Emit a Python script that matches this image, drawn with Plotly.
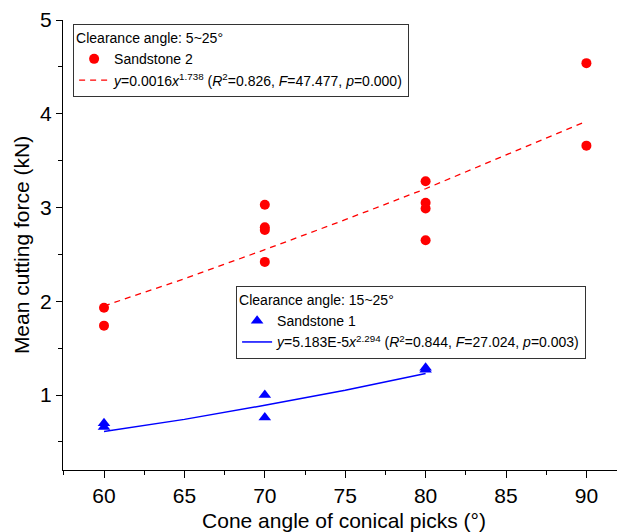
import plotly.graph_objects as go

# ---- data ----
s2_angle = [60, 60, 70, 70, 70, 70, 80, 80, 80, 80, 90, 90]
s2_force = [1.93, 1.74, 3.03, 2.79, 2.76, 2.42, 3.28, 3.05, 2.99, 2.65, 4.54, 3.66]
s1_angle = [60, 60, 70, 70, 80, 80]
s1_force = [0.70, 0.66, 1.00, 0.76, 1.29, 1.27]
fit2_angle = [60, 65, 70, 75, 80, 85, 90]
fit2_force = [1.95, 2.24, 2.55, 2.87, 3.20, 3.56, 3.92]
fit1_angle = [60, 65, 70, 75, 80]
fit1_force = [0.61, 0.74, 0.89, 1.05, 1.23]

s2_name = "Sandstone 2"
s1_name = "Sandstone 1"
fit2_name = "<i>y</i>=0.0016<i>x</i><sup>1.738</sup> (<i>R</i><sup>2</sup>=0.826, <i>F</i>=47.477, <i>p</i>=0.000)"
fit1_name = "<i>y</i>=5.183E-5<i>x</i><sup>2.294</sup> (<i>R</i><sup>2</sup>=0.844, <i>F</i>=27.024, <i>p</i>=0.003)"
legend2_title = "Clearance angle: 5~25°"
legend1_title = "Clearance angle: 15~25°"
x_title = "Cone angle of conical picks (°)"
y_title = "Mean cutting force (kN)"

RED = "#FF0000"
BLUE = "#0000FF"
FONT = "Liberation Sans"

fig = go.Figure()
fig.add_trace(go.Scatter(x=fit2_angle, y=fit2_force, mode="lines", name=fit2_name,
                         line=dict(color=RED, width=1.3, dash="6px,5px"),
                         legend="legend", legendrank=2))
fig.add_trace(go.Scatter(x=s2_angle, y=s2_force, mode="markers", name=s2_name,
                         marker=dict(symbol="circle", size=10, color=RED),
                         legend="legend", legendrank=1))
fig.add_trace(go.Scatter(x=fit1_angle, y=fit1_force, mode="lines", name=fit1_name,
                         line=dict(color=BLUE, width=1.5),
                         legend="legend2", legendrank=2))
fig.add_trace(go.Scatter(x=s1_angle, y=s1_force, mode="markers", name=s1_name,
                         marker=dict(symbol="triangle-up", size=11, color=BLUE),
                         legend="legend2", legendrank=1))

legend_common = dict(
    bgcolor="white", bordercolor="#333333", borderwidth=1,
    font=dict(family=FONT, size=14, color="black"),
    xanchor="left", yanchor="top", itemwidth=30, tracegroupgap=0,
)

# The page body has an 8px default margin, so the figure is 8px smaller
# and its margins are reduced by 8px to keep the plot area in place.
fig.update_layout(
    width=617, height=524,
    margin=dict(l=55, r=0, t=12, b=62),
    plot_bgcolor="white", paper_bgcolor="white",
    font=dict(family=FONT, color="black"),
    showlegend=True,
    legend=dict(title=dict(text=legend2_title, font=dict(family=FONT, size=14)),
                x=0.018, y=0.991, **legend_common),
    legend2=dict(title=dict(text=legend1_title, font=dict(family=FONT, size=14)),
                 x=0.308, y=0.409, **legend_common),
    xaxis=dict(
        range=[57.45, 92.4], tick0=60, dtick=5,
        showline=True, linecolor="black", linewidth=1, mirror=False,
        ticks="outside", ticklen=7, tickwidth=1, tickcolor="black",
        minor=dict(dtick=2.5, tick0=57.5, ticks="outside", ticklen=4, tickcolor="black"),
        showgrid=False, zeroline=False,
        tickfont=dict(family=FONT, size=21),
        title=dict(text=x_title, font=dict(family=FONT, size=21), standoff=8),
    ),
    yaxis=dict(
        range=[0.2, 5], tick0=0, dtick=1,
        showline=True, linecolor="black", linewidth=1, mirror=False,
        ticks="outside", ticklen=6, tickwidth=1, tickcolor="black",
        minor=dict(dtick=0.5, tick0=0, ticks="outside", ticklen=4, tickcolor="black"),
        showgrid=False, zeroline=False,
        tickfont=dict(family=FONT, size=21),
        title=dict(text=y_title, font=dict(family=FONT, size=21), standoff=4),
    ),
)

fig.write_html("out.html")
